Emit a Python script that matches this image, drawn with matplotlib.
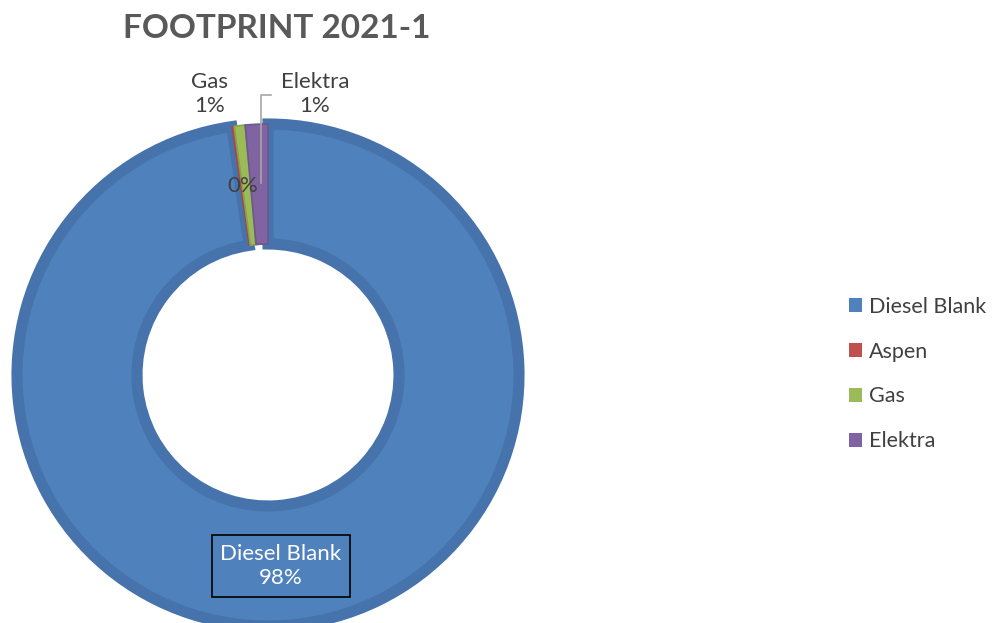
import numpy as np
import matplotlib.pyplot as plt
from matplotlib.patches import Patch

plt.rcParams['font.family'] = ['Lato', 'DejaVu Sans']

# share of footprint per fuel type (%)
categories = ['Diesel Blank', 'Aspen', 'Gas', 'Elektra']
shares = [97.7, 0.15, 0.7, 1.45]
shown_pct = ['98%', '0%', '1%', '1%']

face_colors = ['#4F81BD', '#C0504D', '#9BBB59', '#8064A2']
edge_colors = ['#4673AB', '#A8433F', '#87A34B', '#6E568E']

W, H = 995, 623
fig = plt.figure(figsize=(W / 100, H / 100), dpi=100)
ax = fig.add_axes([0, 0, 1, 1])

cx, cy = 268, H - 375
wedges, _ = ax.pie(shares, colors=face_colors, startangle=90, counterclock=False,
                   center=(cx, cy), radius=251, frame=True,
                   wedgeprops=dict(width=120))
for w, ec, lw in zip(wedges, edge_colors, [8, 0.8, 1.2, 1.2]):
    w.set_edgecolor(ec)
    w.set_linewidth(lw)

ax.set_xlim(0, W)
ax.set_ylim(0, H)
ax.set_aspect('equal')
ax.axis('off')

fig.text(277 / W, 1 - 28 / H, 'FOOTPRINT 2021-1', ha='center', va='center',
         fontsize=24, fontweight='bold', color='#595959')

# data labels
txt = '#404040'
fs = 16
ax.text(210, H - 94, categories[2] + '\n' + shown_pct[2], ha='center', va='center',
        fontsize=fs, color=txt, linespacing=1.3)
ax.text(315, H - 94, categories[3] + '\n' + shown_pct[3], ha='center', va='center',
        fontsize=fs, color=txt, linespacing=1.3)
ax.text(243, H - 186, shown_pct[1], ha='center', va='center', fontsize=fs, color=txt)
ax.plot([271, 261, 261], [H - 95, H - 95, H - 183], color='#A6A6A6', lw=1.2)
ax.text(281, H - 566, categories[0] + '\n' + shown_pct[0], ha='center', va='center',
        fontsize=fs, color='white', linespacing=1.3,
        bbox=dict(boxstyle='square,pad=0.38', facecolor='#4F81BD', edgecolor='black', lw=1.2))

handles = [Patch(facecolor=c, edgecolor='none') for c in face_colors]
leg = ax.legend(handles, categories, loc='center left', bbox_to_anchor=(849 / W, 1 - 374 / H),
                bbox_transform=fig.transFigure, frameon=False, fontsize=15.5, borderpad=0,
                borderaxespad=0, handlelength=0.62, handleheight=0.62, handletextpad=0.3,
                labelspacing=1.15)
for t in leg.get_texts():
    t.set_color(txt)

fig.savefig('out.png', dpi=100, facecolor='white')
